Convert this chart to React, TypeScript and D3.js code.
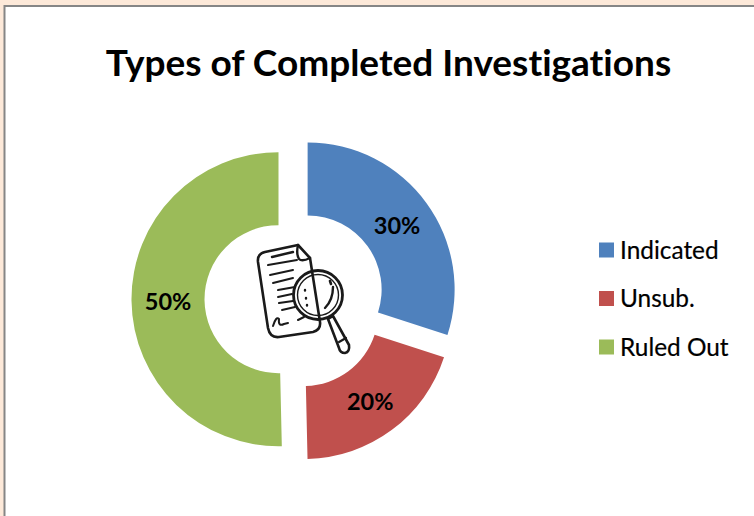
import React from "react";
import * as d3 from "d3";

const categories = ["Indicated", "Unsub.", "Ruled Out"];
const values = [30, 19.64, 50.36];
const labels = ["30%", "20%", "50%"];
const colors = ["#4f81bd", "#c0504d", "#9bbb59"];
const title = "Types of Completed Investigations";

const W = 754, H = 516;
const cx = 294.6, cy = 299, R = 147, r0 = 74, explode = 16.1;

export default function App() {
  const pie = d3.pie<number>().sort(null);
  const arcs = pie(values);
  const arc = d3.arc<d3.PieArcDatum<number>>().innerRadius(r0).outerRadius(R);
  const legendY = d3.scalePoint<string>().domain(categories).range([250, 347]);
  const font = "Lato, Carlito, Calibri, sans-serif";
  const noLig = { fontVariantLigatures: "none" as const, fontFeatureSettings: '"liga" 0, "clig" 0' };
  return (
    <svg width={W} height={H} viewBox={`0 0 ${W} ${H}`} style={{ position: "fixed", left: 0, top: 0, display: "block" }}>
      <rect x={0} y={0} width={W} height={H} fill="#fde9d9" />
      <rect x={4.5} y={6} width={W} height={H} fill="#ffffff" stroke="#868686" strokeWidth={2} />
      <text x={388.5} y={76} textAnchor="middle" fontFamily={font} fontWeight={700} fontSize={37} fill="#000" style={noLig}>{title}</text>
      {arcs.map((a, i) => {
        const mid = (a.startAngle + a.endAngle) / 2;
        const dx = Math.sin(mid) * explode, dy = -Math.cos(mid) * explode;
        const [lx, ly] = arc.centroid(a);
        return (
          <g key={categories[i]} transform={`translate(${cx + dx},${cy + dy})`}>
            <path d={arc(a) ?? ""} fill={colors[i]} />
            <text x={lx} y={ly + 1} dy="0.35em" textAnchor="middle" fontFamily={font} fontWeight={700} fontSize={23.5} fill="#000">{labels[i]}</text>
          </g>
        );
      })}
      <g fill="none" stroke="#1a1a1a" strokeWidth={2} strokeLinecap="round" strokeLinejoin="round">
        <path d="M298,245 L265,252 Q257,254 258,262 L268,328 Q270,338 279,337 L313,332 Q321,330 320,322 L310,258 Z" strokeWidth={2.6} />
        <path d="M298,245 Q296,254 299,259 Q302,262 310,258" strokeWidth={2.4} />
        <path d="M272,257 L293,252" strokeWidth={2.4} />
        <path d="M268,265 L297,260" />
        <path d="M270,275 L293,270" />
        <path d="M273,283 L293,278" />
        <path d="M278,290 L295,287" />
        <path d="M278,297 L292,294" />
        <path d="M279,303 L293,301" />
        <path d="M282,310 L295,307" />
        <path d="M273,326 Q276,316 279,319 Q278,327 284,324 L288,323" />
        <path d="M298,320 L304,317" />
        <circle cx={318} cy={295} r={24.5} strokeWidth={2.8} />
        <circle cx={318} cy={295} r={20.5} strokeWidth={1.4} />
        <path d="M333,287 Q333,300 325,308" strokeWidth={2.4} />
        <path d="M330,281 L331,284" strokeWidth={2.6} />
        <path d="M305,290 L305,290.5 M306,298 L306,298.5 M307,305 L307,305.5" strokeWidth={2.4} />
        <path d="M328,319 L333,316 L349,345 Q350,352 345,353 Q340,353 339,348 Z" strokeWidth={2.6} />
        <path d="M339,342 L346,338" strokeWidth={2.2} />
      </g>
      {categories.map((c, i) => (
        <g key={c} transform={`translate(0,${legendY(c)})`}>
          <rect x={599} y={-7.5} width={15} height={15} fill={colors[i]} />
          <text x={620} y={0} dy="0.35em" fontFamily={font} fontSize={24.4} fill="#000" stroke="#000" strokeWidth={0.2}>{c}</text>
        </g>
      ))}
    </svg>
  );
}
